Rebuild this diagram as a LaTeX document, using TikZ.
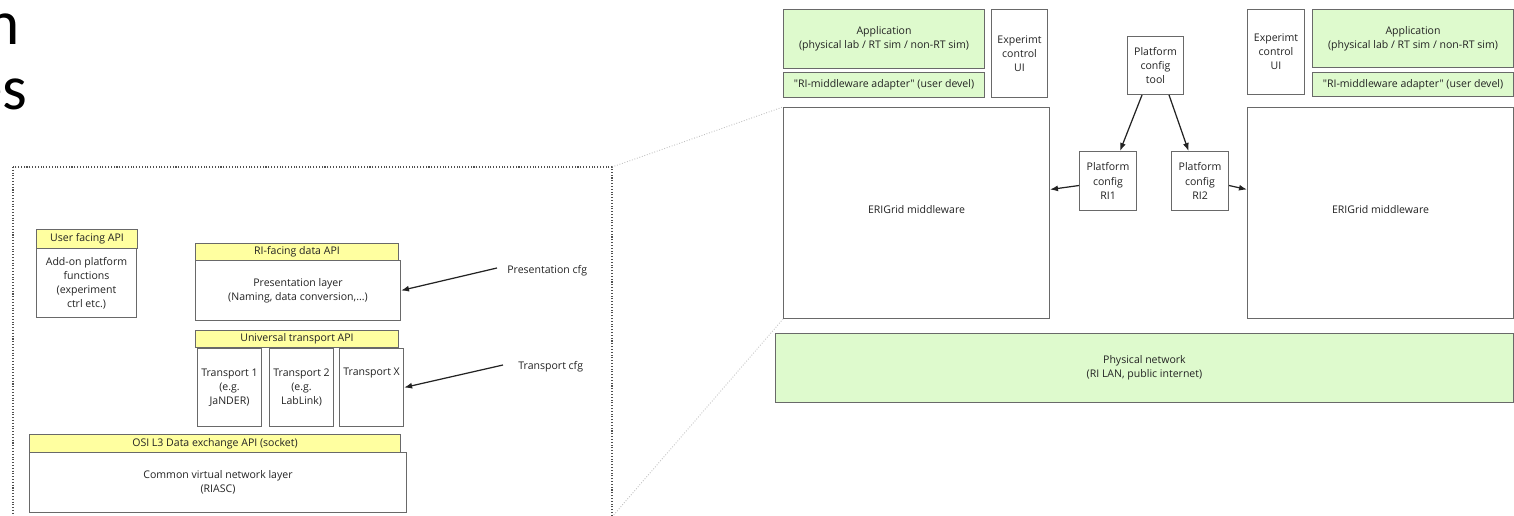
\documentclass[tikz,border=0pt]{standalone}
\usepackage{fontspec}
\newfontfamily\boxfont{Open Sans}
\newfontfamily\slidefont{Carlito}
\usepackage{xcolor}
\definecolor{gray-900}{RGB}{35,35,35}
\definecolor{gray-700}{RGB}{80,80,80}
\definecolor{gray-600}{RGB}{105,105,105}
\definecolor{gray-300}{RGB}{190,190,190}
\definecolor{yellow-200}{RGB}{255,255,160}
\definecolor{green-100}{RGB}{222,250,205}
\usetikzlibrary{arrows.meta,positioning}

\begin{document}
\begin{tikzpicture}[
    x=0.02cm, y=-0.02cm,
    every node/.style={inner sep=0pt, font=\boxfont\fontsize{6}{8}\selectfont, text=gray-900, align=center},
    layerbox/.style={draw=gray-600, line width=0.6pt, fill=white, anchor=north west},
    apibox/.style={layerbox, fill=yellow-200},
    appbox/.style={layerbox, fill=green-100},
    cfgarrow/.style={-{Latex[length=1.6mm,width=1.2mm]}, line width=0.7pt, gray-900},
    zoomline/.style={gray-300, densely dotted, line width=0.5pt}
]

\useasboundingbox (0,0) rectangle (1514,516);

% Slide title (cut off at the left)
\node[font=\slidefont\fontsize{36}{40}\selectfont, text=black, anchor=base east] (titleA) at (20,45) {n};
\node[font=\slidefont\fontsize{36}{40}\selectfont, text=black, anchor=base east] (titleB) at (28,110) {es};

% Dotted frame of the detail view
\coordinate (frameNE) at (612,167);
\coordinate (frameSE) at (612,517);
\draw[gray-700, densely dotted, line width=0.6pt] (13,167) rectangle (frameSE);

% User facing side
\node[apibox, minimum width=2.02cm, minimum height=0.38cm] (userapi) at (36,229) {User facing API};
\node[layerbox, minimum width=2.0cm, minimum height=1.38cm] (addon) at (36,248) {Add-on platform\\functions\\(experiment\\ctrl etc.)};

% Presentation layer
\node[apibox, minimum width=4.06cm, minimum height=0.34cm] (riapi) at (195,243) {RI-facing data API};
\node[layerbox, minimum width=4.1cm, minimum height=1.2cm] (present) at (195,260) {Presentation layer\\(Naming, data conversion,...)};

% Transports
\node[apibox, minimum width=4.06cm, minimum height=0.34cm] (transapi) at (195,330) {Universal transport API};
\node[layerbox, minimum width=1.28cm, minimum height=1.56cm] (trans1) at (197,348) {Transport 1\\(e.g.\\JaNDER)};
\node[layerbox, minimum width=1.28cm, minimum height=1.56cm, right=0.14cm of trans1.north east, anchor=north west] (trans2) {Transport 2\\(e.g.\\LabLink)};
\node[layerbox, minimum width=1.28cm, minimum height=1.56cm, right=0.1cm of trans2.north east, anchor=north west] (transX) {Transport X\\\strut\\\strut};

% Network layer
\node[apibox, minimum width=7.42cm, minimum height=0.36cm] (osiapi) at (29,434) {OSI L3 Data exchange API (socket)};
\node[layerbox, minimum width=7.54cm, minimum height=1.2cm] (vnet) at (29,452) {Common virtual network layer\\(RIASC)};

% Configuration inputs
\node[anchor=west] (prescfg) at (507,271) {Presentation cfg};
\node[anchor=west] (transcfg) at (518,367) {Transport cfg};
\draw[cfgarrow] ([xshift=-0.2cm, yshift=0.06cm]prescfg.west) -- (present.east);
\draw[cfgarrow] ([xshift=-0.3cm, yshift=0.04cm]transcfg.west) -- (transX.east);

% RI 1
\node[appbox, minimum width=4.02cm, minimum height=1.18cm] (app1) at (783,9) {Application\\(physical lab / RT sim / non-RT sim)};
\node[appbox, minimum width=4.02cm, minimum height=0.5cm] (adapt1) at (783,72) {"RI-middleware adapter" (user devel)};
\node[layerbox, minimum width=1.12cm, minimum height=1.76cm] (ui1) at (991,9) {Experimt\\control\\UI};
\node[layerbox, minimum width=5.32cm, minimum height=4.22cm] (mw1) at (783,107) {\raisebox{0.16cm}{ERIGrid middleware}};

% Platform configuration
\node[layerbox, minimum width=1.12cm, minimum height=1.16cm] (tool) at (1127,36) {Platform\\config\\tool};
\node[layerbox, minimum width=1.14cm, minimum height=1.18cm] (ri1) at (1079,151) {Platform\\config\\RI1};
\node[layerbox, minimum width=1.14cm, minimum height=1.18cm] (ri2) at (1171,151) {Platform\\config\\RI2};

% RI 2
\node[layerbox, minimum width=1.14cm, minimum height=1.7cm] (ui2) at (1247,9) {Experimt\\control\\UI};
\node[appbox, minimum width=4.02cm, minimum height=1.16cm] (app2) at (1312,9) {Application\\(physical lab / RT sim / non-RT sim)};
\node[appbox, minimum width=4.02cm, minimum height=0.48cm] (adapt2) at (1312,72) {"RI-middleware adapter" (user devel)};
\node[layerbox, minimum width=5.32cm, minimum height=4.22cm] (mw2) at (1247,107) {\raisebox{0.16cm}{ERIGrid middleware}};

% Physical network
\node[appbox, minimum width=14.76cm, minimum height=1.38cm] (physnet) at (775,333) {Physical network\\(RI LAN, public internet)};

% Config arrows
\draw[cfgarrow] ([xshift=0.3cm]tool.south west) -- ([xshift=0.24cm]ri1.north);
\draw[cfgarrow] ([xshift=-0.3cm]tool.south east) -- ([xshift=-0.23cm]ri2.north);
\draw[cfgarrow] ([yshift=-0.09cm]ri1.west) -- ([yshift=0.47cm]mw1.east);
\draw[cfgarrow] ([yshift=-0.09cm]ri2.east) -- ([yshift=0.47cm]mw2.west);

% Zoom lines
\draw[zoomline] (frameNE) -- (mw1.north west);
\draw[zoomline] (frameSE) -- (mw1.south west);

\end{tikzpicture}
\end{document}
